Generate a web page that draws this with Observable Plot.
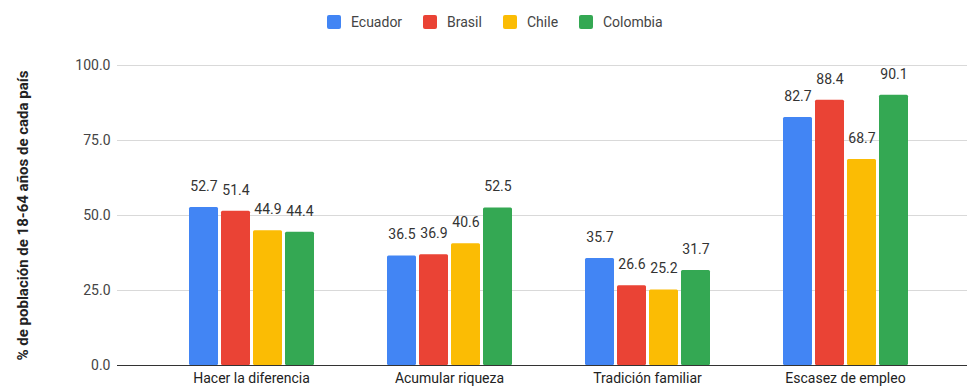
<!DOCTYPE html>
<html>
<head>
<meta charset="utf-8">
<script src="https://cdn.jsdelivr.net/npm/d3@7"></script>
<script src="https://cdn.jsdelivr.net/npm/@observablehq/plot@0.6"></script>
<style>
  html, body { margin: 0; padding: 0; background: #fff; }
  body { width: 967px; height: 386px; overflow: hidden; font-family: Roboto, "Liberation Sans", Arial, sans-serif; }
  #legend { position: relative; height: 40px; }
  .item { position: absolute; top: 14px; display: flex; align-items: center; font-size: 14px; line-height: 16px; color: #444; }
  .sw { width: 14px; height: 14px; border-radius: 2px; margin-right: 10px; }
  #chart { position: relative; width: 967px; height: 346px; }
  #chart svg { display: block; position: absolute; left: 0; top: 0; }
</style>
</head>
<body>
<div id="legend"></div>
<div id="chart"></div>
<script>
const categories = ["Hacer la diferencia", "Acumular riqueza", "Tradición familiar", "Escasez de empleo"];
const series = ["Ecuador", "Brasil", "Chile", "Colombia"];
const ecuador = [52.7, 36.5, 35.7, 82.7];
const brasil = [51.4, 36.9, 26.6, 88.4];
const chile = [44.9, 40.6, 25.2, 68.7];
const colombia = [44.4, 52.5, 31.7, 90.1];
const colors = ["#4285F4", "#EA4335", "#FBBC04", "#34A853"];
const yTicks = [0, 25, 50, 75, 100];
const yTitle = "% de población de 18-64 años de cada país";

const values = [ecuador, brasil, chile, colombia];
const data = [];
categories.forEach((c, i) => {
  series.forEach((s, j) => {
    data.push({category: c, series: s, value: values[j][i]});
  });
});

// Legend (HTML above the SVG)
const legendPos = [327, 423, 503, 579];
const legend = document.getElementById("legend");
series.forEach((s, j) => {
  const it = document.createElement("div");
  it.className = "item";
  it.style.left = legendPos[j] + "px";
  it.innerHTML = `<span class="sw" style="background:${colors[j]}"></span><span>${s}</span>`;
  legend.appendChild(it);
});

const font = "Roboto, 'Liberation Sans', Arial, sans-serif";
const common = {
  width: 967,
  height: 346,
  marginLeft: 117,
  marginRight: 0,
  marginTop: 25,
  marginBottom: 21
};
const yScale = {domain: [0, 100], ticks: yTicks, tickFormat: d3.format(".1f"), tickSize: 0, tickPadding: 7, label: null};

// Background layer: grid, y axis, axis title, full-width baseline
const base = Plot.plot({
  ...common,
  style: {fontFamily: font, fontSize: "14px", color: "#444", background: "#fff"},
  y: yScale,
  marks: [
    Plot.ruleY(yTicks.filter(d => d > 0), {stroke: "#d9d9d9", strokeWidth: 1}),
    Plot.ruleY([0], {stroke: "#333", strokeWidth: 1}),
    Plot.text([yTitle], {frameAnchor: "left", rotate: -90, dx: -94, textAnchor: "middle", fontWeight: "bold", fill: "#222", fontSize: 15})
  ]
});

// Foreground layer: grouped bars via facets
const bars = Plot.plot({
  ...common,
  style: {fontFamily: font, fontSize: "14px", color: "#222", background: "transparent"},
  fx: {domain: categories, paddingInner: 0, paddingOuter: 0.143, align: 0.596, label: null, tickSize: 0, tickPadding: 8},
  x: {domain: series, paddingInner: 0.1, paddingOuter: 1.1, axis: null},
  y: {...yScale, axis: null},
  color: {domain: series, range: colors},
  marks: [
    Plot.barY(data, {fx: "category", x: "series", y: "value", fill: "series", rx: 1.5}),
    Plot.text(data, {fx: "category", x: "series", y: "value", text: d => d3.format(".1f")(d.value), dy: -21, fill: "#333", fontSize: 14}),
    Plot.ruleY([0], {stroke: "#333", strokeWidth: 1})
  ]
});
document.getElementById("chart").appendChild(base);
document.getElementById("chart").appendChild(bars);
</script>
</body>
</html>
